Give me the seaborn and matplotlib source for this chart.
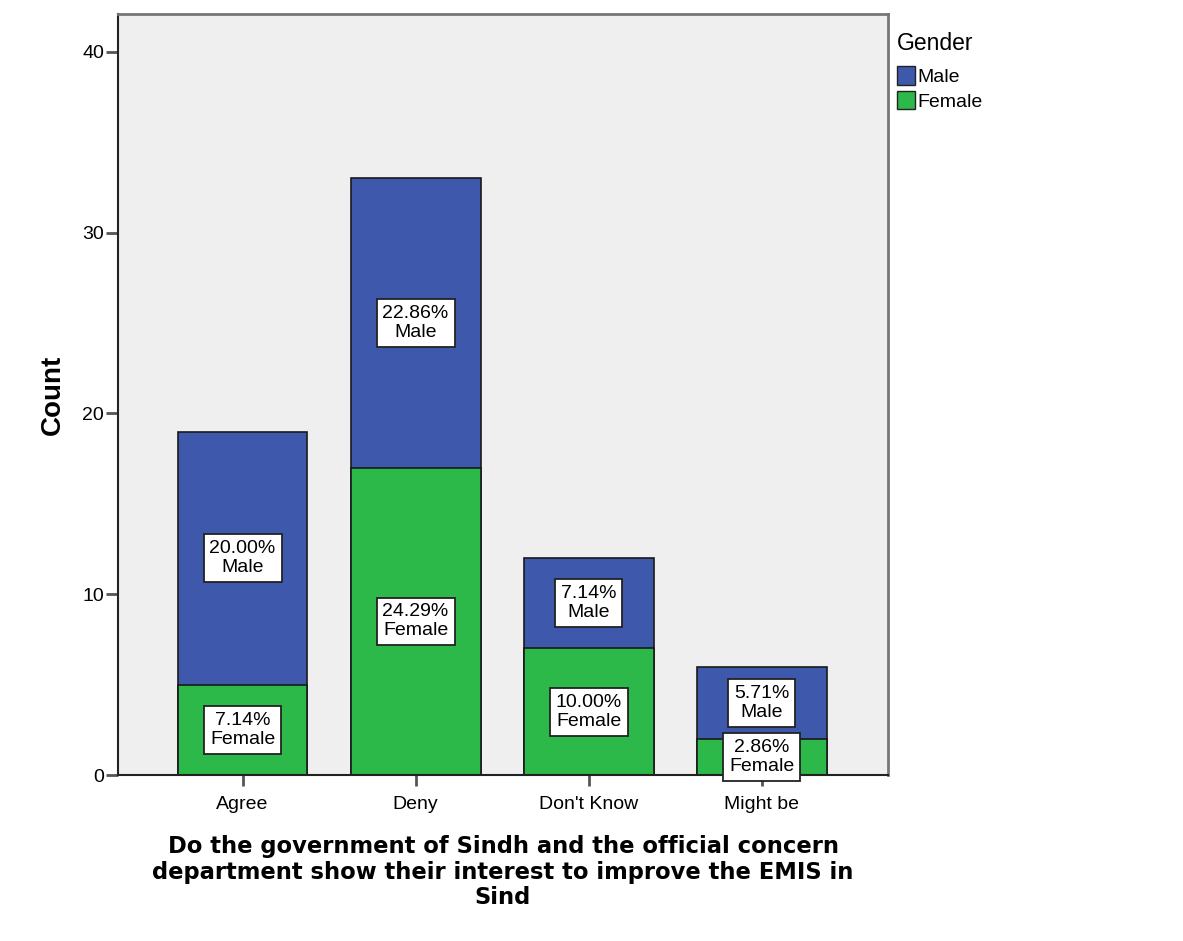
import matplotlib
matplotlib.use("Agg")
import matplotlib.pyplot as plt
import seaborn as sns
import pandas as pd
from matplotlib.patches import Patch

categories = ["Agree", "Deny", "Don't Know", "Might be"]
male = [14, 16, 5, 4]
female = [5, 17, 7, 2]
total_n = 70

blue = "#3E58AC"
green = "#2DB84A"

sns.set_style("white")
plt.rcParams['font.family'] = ['Liberation Sans', 'DejaVu Sans']
plt.rcParams['text.color'] = 'black'
plt.rcParams['axes.labelcolor'] = 'black'
plt.rcParams['xtick.color'] = 'black'
plt.rcParams['ytick.color'] = 'black'

df = pd.DataFrame({"cat": categories, "male": male, "female": female})
df["total"] = df["male"] + df["female"]

fig = plt.figure(figsize=(11.83, 9.41), dpi=100)
ax = fig.add_axes([118/1183, 1-775/941, (888-118)/1183, (775-14)/941])
ax.set_facecolor("#EFEFEF")

sns.barplot(data=df, x="cat", y="total", color=blue, edgecolor="#1a1a1a",
            linewidth=1.2, width=0.75, saturation=1, ax=ax)
sns.barplot(data=df, x="cat", y="female", color=green, edgecolor="#1a1a1a",
            linewidth=1.2, width=0.75, saturation=1, ax=ax)

box = dict(boxstyle="square,pad=0.3", facecolor="white", edgecolor="#222222", linewidth=1.3)
for i, (m, f) in enumerate(zip(male, female)):
    ax.text(i, f + m / 2, f"{m/total_n*100:.2f}%\nMale", ha="center", va="center",
            fontsize=14, bbox=box, linespacing=1.15)
    ax.text(i, f / 2, f"{f/total_n*100:.2f}%\nFemale", ha="center", va="center",
            fontsize=14, bbox=box, linespacing=1.15)

ax.set_xlim(-0.72, 3.73)
ax.set_ylim(0, 42.1)
ax.set_yticks([0, 10, 20, 30, 40])
ax.tick_params(axis="y", direction="out", length=9, width=2, color="#555555",
               labelsize=14, pad=1, left=True, labelcolor="black")
ax.tick_params(axis="x", direction="out", length=8, width=2, color="#555555",
               labelsize=14, pad=7, bottom=True, labelcolor="black")

for s in ["left", "bottom"]:
    ax.spines[s].set_color("#222222")
    ax.spines[s].set_linewidth(1.5)
for s in ["top", "right"]:
    ax.spines[s].set_color("#777777")
    ax.spines[s].set_linewidth(2)

ax.set_ylabel("Count", fontsize=20, fontweight="bold", labelpad=12)
ax.set_xlabel("Do the government of Sindh and the official concern\n"
              "department show their interest to improve the EMIS in\nSind",
              fontsize=16.3, fontweight="bold", family="DejaVu Sans",
              labelpad=16, linespacing=1.15)

handles = [Patch(facecolor=blue, edgecolor="#222222", label="Male"),
           Patch(facecolor=green, edgecolor="#222222", label="Female")]
leg = fig.legend(handles=handles, title="Gender", loc="upper left",
                 bbox_to_anchor=(889/1183, 1-24/941), frameon=False,
                 fontsize=14, title_fontsize=16.5, handlelength=0.95,
                 handleheight=1.1, handletextpad=0.1, labelspacing=0.25,
                 borderaxespad=0)
leg._legend_box.align = "left"
leg._legend_box.sep = 8

fig.savefig("out.png", dpi=100, facecolor="white")
